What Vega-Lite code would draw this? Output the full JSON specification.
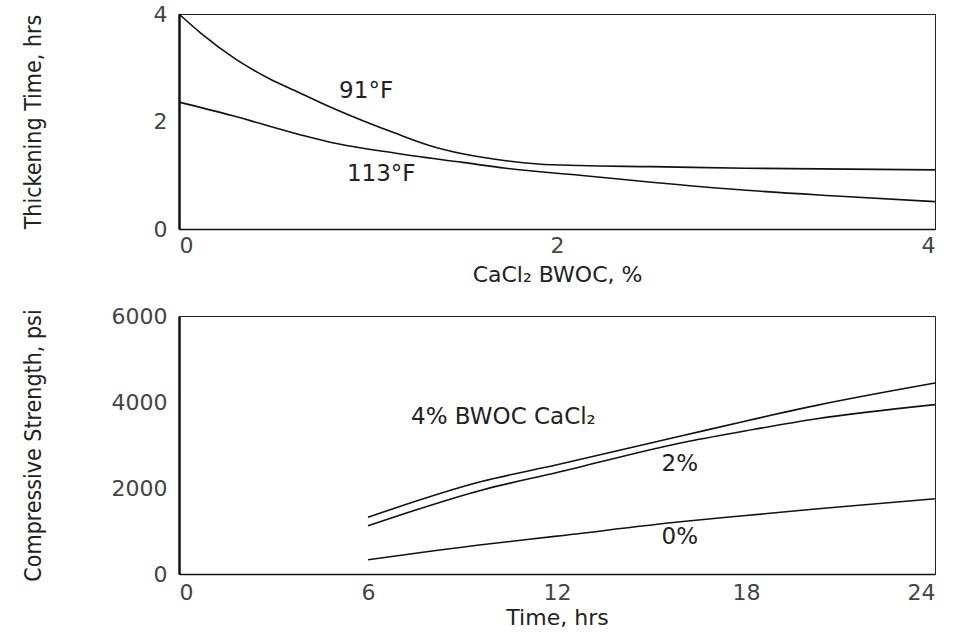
{
  "$schema": "https://vega.github.io/schema/vega-lite/v6.json",
  "background": "white",
  "padding": {"left": 21, "top": 2, "right": 5, "bottom": 2},
  "bounds": "flush",
  "spacing": 87,
  "datasets": {
    "thick": [
      {"bwoc": 0.0, "time": 4.0, "temp": "91°F"},
      {"bwoc": 0.12, "time": 3.63, "temp": "91°F"},
      {"bwoc": 0.3, "time": 3.16, "temp": "91°F"},
      {"bwoc": 0.476, "time": 2.8, "temp": "91°F"},
      {"bwoc": 0.635, "time": 2.54, "temp": "91°F"},
      {"bwoc": 0.794, "time": 2.28, "temp": "91°F"},
      {"bwoc": 0.97, "time": 2.02, "temp": "91°F"},
      {"bwoc": 1.146, "time": 1.78, "temp": "91°F"},
      {"bwoc": 1.32, "time": 1.56, "temp": "91°F"},
      {"bwoc": 1.5, "time": 1.4, "temp": "91°F"},
      {"bwoc": 1.73, "time": 1.27, "temp": "91°F"},
      {"bwoc": 1.9, "time": 1.21, "temp": "91°F"},
      {"bwoc": 2.12, "time": 1.18, "temp": "91°F"},
      {"bwoc": 2.5, "time": 1.16, "temp": "91°F"},
      {"bwoc": 3.0, "time": 1.13, "temp": "91°F"},
      {"bwoc": 4.0, "time": 1.1, "temp": "91°F"},
      {"bwoc": 0.0, "time": 2.36, "temp": "113°F"},
      {"bwoc": 0.28, "time": 2.11, "temp": "113°F"},
      {"bwoc": 0.635, "time": 1.76, "temp": "113°F"},
      {"bwoc": 0.794, "time": 1.62, "temp": "113°F"},
      {"bwoc": 1.146, "time": 1.41, "temp": "113°F"},
      {"bwoc": 1.5, "time": 1.24, "temp": "113°F"},
      {"bwoc": 1.73, "time": 1.13, "temp": "113°F"},
      {"bwoc": 2.12, "time": 1.0, "temp": "113°F"},
      {"bwoc": 2.5, "time": 0.87, "temp": "113°F"},
      {"bwoc": 3.0, "time": 0.72, "temp": "113°F"},
      {"bwoc": 3.5, "time": 0.61, "temp": "113°F"},
      {"bwoc": 4.0, "time": 0.51, "temp": "113°F"}
    ],
    "thickLabels": [
      {"bwoc": 0.99, "time": 2.56, "label": "91°F"},
      {"bwoc": 1.07, "time": 1.03, "label": "113°F"}
    ],
    "strength": [
      {"hours": 6, "psi": 1320, "conc": "4%"},
      {"hours": 9.6, "psi": 2150, "conc": "4%"},
      {"hours": 12, "psi": 2540, "conc": "4%"},
      {"hours": 16, "psi": 3220, "conc": "4%"},
      {"hours": 18, "psi": 3560, "conc": "4%"},
      {"hours": 20.2, "psi": 3915, "conc": "4%"},
      {"hours": 24, "psi": 4440, "conc": "4%"},
      {"hours": 6, "psi": 1120, "conc": "2%"},
      {"hours": 9.6, "psi": 1950, "conc": "2%"},
      {"hours": 12, "psi": 2360, "conc": "2%"},
      {"hours": 16, "psi": 3060, "conc": "2%"},
      {"hours": 18, "psi": 3330, "conc": "2%"},
      {"hours": 20.2, "psi": 3605, "conc": "2%"},
      {"hours": 24, "psi": 3940, "conc": "2%"},
      {"hours": 6, "psi": 330, "conc": "0%"},
      {"hours": 9.6, "psi": 680, "conc": "0%"},
      {"hours": 12, "psi": 880, "conc": "0%"},
      {"hours": 16, "psi": 1220, "conc": "0%"},
      {"hours": 18, "psi": 1360, "conc": "0%"},
      {"hours": 20.2, "psi": 1510, "conc": "0%"},
      {"hours": 24, "psi": 1750, "conc": "0%"}
    ],
    "strengthLabels": [
      {"hours": 10.3, "psi": 3650, "label": "4% BWOC CaCl₂"},
      {"hours": 15.9, "psi": 2560, "label": "2%"},
      {"hours": 15.9, "psi": 872, "label": "0%"}
    ]
  },
  "config": {
    "view": {"stroke": "#222", "strokeWidth": 1},
    "axis": {
      "domainColor": "#111",
      "domainWidth": 1.5,
      "ticks": false,
      "grid": false,
      "labelFont": "DejaVu Sans",
      "labelFontSize": 22,
      "labelColor": "#444",
      "titleFont": "DejaVu Sans",
      "titleFontWeight": "normal",
      "titleColor": "#222",
      "titleFontSize": 22
    },
    "axisY": {
      "domainWidth": 2.5,
      "labelPadding": 12,
      "titleFont": "DejaVu Sans Condensed, Liberation Sans, sans-serif",
      "titleFontSize": 23,
      "titleX": -146,
      "titleBaseline": "middle"
    },
    "axisX": {"labelPadding": 6, "titleY": 45, "titleBaseline": "middle"},
    "text": {"font": "DejaVu Sans", "fontSize": 23, "color": "#222"}
  },
  "vconcat": [
    {
      "width": 756,
      "height": 215,
      "layer": [
        {
          "data": {"name": "thick"},
          "mark": {"type": "line", "interpolate": "monotone", "color": "#111", "strokeWidth": 1.6},
          "encoding": {
            "x": {"field": "bwoc", "type": "quantitative", "scale": {"domain": [0, 4], "nice": false}, "axis": {"values": [0, 2, 4], "format": "d", "title": "CaCl₂ BWOC, %"}},
            "y": {"field": "time", "type": "quantitative", "scale": {"domain": [0, 4], "nice": false}, "axis": {"values": [0, 2, 4], "format": "d", "title": "Thickening Time, hrs"}},
            "detail": {"field": "temp"}
          }
        },
        {
          "data": {"name": "thickLabels"},
          "mark": {"type": "text", "align": "center", "baseline": "middle"},
          "encoding": {
            "x": {"field": "bwoc", "type": "quantitative"},
            "y": {"field": "time", "type": "quantitative"},
            "text": {"field": "label"}
          }
        }
      ]
    },
    {
      "width": 756,
      "height": 258,
      "layer": [
        {
          "data": {"name": "strength"},
          "mark": {"type": "line", "interpolate": "monotone", "color": "#111", "strokeWidth": 1.6},
          "encoding": {
            "x": {"field": "hours", "type": "quantitative", "scale": {"domain": [0, 24], "nice": false}, "axis": {"values": [0, 6, 12, 18, 24], "format": "d", "title": "Time, hrs", "labelPadding": 8, "titleY": 43}},
            "y": {"field": "psi", "type": "quantitative", "scale": {"domain": [0, 6000], "nice": false}, "axis": {"values": [0, 2000, 4000, 6000], "format": "d", "title": "Compressive Strength, psi"}},
            "detail": {"field": "conc"}
          }
        },
        {
          "data": {"name": "strengthLabels"},
          "mark": {"type": "text", "align": "center", "baseline": "middle"},
          "encoding": {
            "x": {"field": "hours", "type": "quantitative"},
            "y": {"field": "psi", "type": "quantitative"},
            "text": {"field": "label"}
          }
        }
      ]
    }
  ]
}
